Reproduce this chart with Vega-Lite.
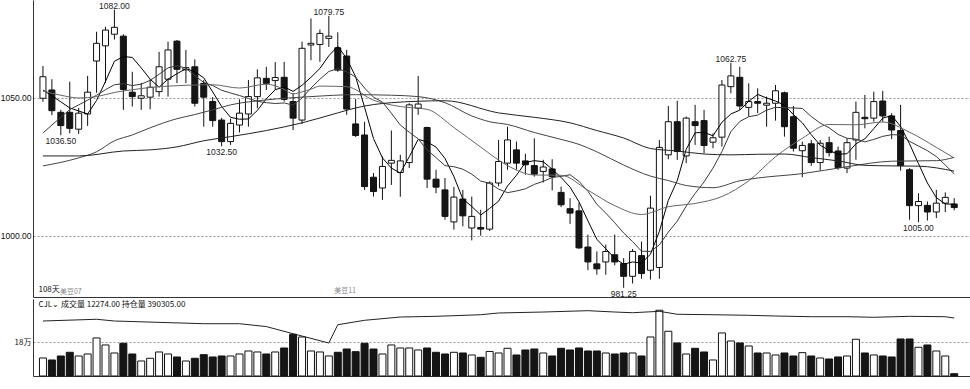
{
"$schema":"https://vega.github.io/schema/vega-lite/v6.json",
"padding":0,
"background":"white",
"spacing":0,
"config":{"view":{"stroke":null},"font":"Liberation Sans","text":{"font":"Liberation Sans"}},
"datasets":{
"k":[
{"i":0,"o":1049.9,"h":1061.6,"l":1048.6,"c":1057.7,"v":96100,"m5":1052.9,"m10":1037.3},
{"i":1,"o":1052.9,"h":1056.8,"l":1043.8,"c":1045.4,"v":85500,"m5":1050.8,"m10":1040.2},
{"i":2,"o":1044.8,"h":1045.7,"l":1036.5,"c":1040.0,"v":106800,"m5":1048.6,"m10":1043.0},
{"i":3,"o":1044.8,"h":1055.9,"l":1037.2,"c":1039.0,"v":126600,"m5":1046.4,"m10":1045.8},
{"i":4,"o":1038.7,"h":1046.4,"l":1037.0,"c":1044.5,"v":106800,"m5":1045.3,"m10":1047.5},
{"i":5,"o":1044.2,"h":1058.0,"l":1039.9,"c":1052.1,"v":117500,"m5":1044.2,"m10":1049.2},
{"i":6,"o":1063.4,"h":1074.0,"l":1051.9,"c":1069.8,"v":203000,"m5":1049.1,"m10":1051.0},
{"i":7,"o":1068.9,"h":1075.8,"l":1055.4,"c":1074.6,"v":165600,"m5":1056.0,"m10":1053.0},
{"i":8,"o":1073.1,"h":1082.0,"l":1071.2,"c":1075.6,"v":122800,"m5":1063.3,"m10":1054.8},
{"i":9,"o":1072.4,"h":1073.1,"l":1045.7,"c":1053.1,"v":174600,"m5":1065.0,"m10":1055.2},
{"i":10,"o":1052.1,"h":1059.5,"l":1046.9,"c":1050.5,"v":117500,"m5":1064.7,"m10":1054.5},
{"i":11,"o":1049.9,"h":1055.5,"l":1045.7,"c":1050.8,"v":80100,"m5":1060.9,"m10":1055.0},
{"i":12,"o":1050.3,"h":1056.8,"l":1045.9,"c":1053.9,"v":94500,"m5":1056.8,"m10":1056.4},
{"i":13,"o":1052.3,"h":1066.7,"l":1050.5,"c":1061.3,"v":128200,"m5":1053.9,"m10":1058.6},
{"i":14,"o":1056.8,"h":1070.4,"l":1050.5,"c":1067.4,"v":117500,"m5":1056.8,"m10":1060.9},
{"i":15,"o":1070.6,"h":1071.0,"l":1055.4,"c":1060.4,"v":101500,"m5":1058.8,"m10":1061.7},
{"i":16,"o":1060.2,"h":1067.4,"l":1055.4,"c":1061.0,"v":80100,"m5":1060.6,"m10":1060.8},
{"i":17,"o":1061.3,"h":1064.0,"l":1046.9,"c":1048.1,"v":94500,"m5":1059.5,"m10":1058.1},
{"i":18,"o":1055.3,"h":1056.5,"l":1039.6,"c":1050.3,"v":113800,"m5":1057.3,"m10":1055.6},
{"i":19,"o":1048.7,"h":1050.3,"l":1039.6,"c":1041.8,"v":101500,"m5":1052.2,"m10":1054.5},
{"i":20,"o":1042.0,"h":1042.8,"l":1032.5,"c":1034.2,"v":106800,"m5":1046.9,"m10":1052.8},
{"i":21,"o":1034.2,"h":1042.5,"l":1033.0,"c":1040.8,"v":106800,"m5":1043.0,"m10":1051.8},
{"i":22,"o":1040.2,"h":1049.5,"l":1037.5,"c":1044.5,"v":117500,"m5":1042.3,"m10":1050.9},
{"i":23,"o":1044.2,"h":1056.5,"l":1039.6,"c":1050.5,"v":133500,"m5":1042.4,"m10":1049.8},
{"i":24,"o":1050.5,"h":1060.4,"l":1046.3,"c":1057.3,"v":128200,"m5":1045.5,"m10":1048.8},
{"i":25,"o":1057.1,"h":1061.3,"l":1052.9,"c":1055.3,"v":117500,"m5":1049.7,"m10":1048.3},
{"i":26,"o":1056.3,"h":1063.0,"l":1053.0,"c":1057.4,"v":128200,"m5":1053.0,"m10":1048.0},
{"i":27,"o":1057.5,"h":1063.1,"l":1048.7,"c":1049.5,"v":149500,"m5":1054.0,"m10":1048.2},
{"i":28,"o":1048.7,"h":1051.8,"l":1038.4,"c":1042.7,"v":222700,"m5":1052.4,"m10":1047.4},
{"i":29,"o":1042.0,"h":1070.4,"l":1040.6,"c":1068.0,"v":208300,"m5":1054.6,"m10":1050.0},
{"i":30,"o":1069.2,"h":1078.8,"l":1063.7,"c":1069.8,"v":133500,"m5":1057.5,"m10":1053.6},
{"i":31,"o":1069.4,"h":1074.8,"l":1063.1,"c":1073.4,"v":128200,"m5":1060.7,"m10":1056.8},
{"i":32,"o":1071.6,"h":1079.75,"l":1068.5,"c":1072.4,"v":106800,"m5":1065.3,"m10":1059.6},
{"i":33,"o":1068.2,"h":1073.8,"l":1059.5,"c":1060.1,"v":126600,"m5":1068.7,"m10":1060.6},
{"i":34,"o":1065.2,"h":1067.4,"l":1043.9,"c":1046.0,"v":144200,"m5":1064.3,"m10":1059.5},
{"i":35,"o":1040.6,"h":1049.6,"l":1035.9,"c":1036.4,"v":129800,"m5":1057.7,"m10":1057.6},
{"i":36,"o":1036.6,"h":1041.4,"l":1016.7,"c":1017.9,"v":174600,"m5":1046.6,"m10":1053.6},
{"i":37,"o":1021.3,"h":1022.8,"l":1014.3,"c":1016.1,"v":144000,"m5":1035.3,"m10":1050.3},
{"i":38,"o":1017.4,"h":1028.8,"l":1013.1,"c":1025.2,"v":117500,"m5":1028.3,"m10":1048.5},
{"i":39,"o":1026.4,"h":1038.2,"l":1018.5,"c":1027.4,"v":165600,"m5":1024.6,"m10":1044.5},
{"i":40,"o":1023.0,"h":1029.4,"l":1014.2,"c":1027.2,"v":149500,"m5":1022.8,"m10":1040.2},
{"i":41,"o":1026.6,"h":1048.1,"l":1024.6,"c":1047.5,"v":149500,"m5":1028.7,"m10":1037.6},
{"i":42,"o":1046.3,"h":1058.0,"l":1043.9,"c":1047.8,"v":138900,"m5":1035.0,"m10":1035.2},
{"i":43,"o":1039.3,"h":1039.6,"l":1017.4,"c":1020.6,"v":149500,"m5":1034.1,"m10":1031.2},
{"i":44,"o":1020.6,"h":1024.0,"l":1015.5,"c":1017.7,"v":126600,"m5":1032.2,"m10":1028.4},
{"i":45,"o":1016.7,"h":1021.0,"l":1005.9,"c":1007.1,"v":117500,"m5":1028.1,"m10":1025.5},
{"i":46,"o":1005.1,"h":1017.8,"l":1002.3,"c":1014.1,"v":126600,"m5":1021.5,"m10":1025.1},
{"i":47,"o":1013.4,"h":1016.7,"l":1003.5,"c":1007.3,"v":122800,"m5":1013.4,"m10":1024.2},
{"i":48,"o":1002.9,"h":1014.3,"l":998.4,"c":1007.1,"v":112200,"m5":1010.7,"m10":1022.4},
{"i":49,"o":1003.1,"h":1009.5,"l":1000.1,"c":1002.5,"v":99900,"m5":1007.6,"m10":1019.9},
{"i":50,"o":1002.5,"h":1019.8,"l":1001.8,"c":1019.2,"v":131000,"m5":1010.0,"m10":1019.1},
{"i":51,"o":1019.2,"h":1034.8,"l":1018.0,"c":1027.0,"v":122800,"m5":1012.6,"m10":1017.0},
{"i":52,"o":1026.4,"h":1039.6,"l":1024.0,"c":1034.8,"v":147900,"m5":1018.1,"m10":1015.7},
{"i":53,"o":1031.2,"h":1034.2,"l":1024.0,"c":1026.4,"v":112200,"m5":1022.0,"m10":1016.3},
{"i":54,"o":1027.2,"h":1029.8,"l":1022.2,"c":1025.8,"v":138900,"m5":1026.6,"m10":1017.1},
{"i":55,"o":1025.5,"h":1035.4,"l":1021.5,"c":1022.4,"v":144200,"m5":1027.3,"m10":1018.7},
{"i":56,"o":1023.4,"h":1027.6,"l":1019.4,"c":1025.0,"v":122800,"m5":1026.9,"m10":1019.8},
{"i":57,"o":1024.3,"h":1027.8,"l":1016.5,"c":1021.5,"v":106800,"m5":1024.2,"m10":1021.2},
{"i":58,"o":1015.8,"h":1017.9,"l":1010.5,"c":1011.3,"v":147900,"m5":1021.2,"m10":1021.6},
{"i":59,"o":1009.9,"h":1013.7,"l":1004.4,"c":1008.3,"v":138900,"m5":1017.7,"m10":1022.2},
{"i":60,"o":1009.1,"h":1012.1,"l":995.3,"c":995.7,"v":149500,"m5":1012.4,"m10":1019.8},
{"i":61,"o":996.0,"h":1000.5,"l":987.6,"c":990.6,"v":133500,"m5":1005.5,"m10":1016.2},
{"i":62,"o":989.9,"h":994.4,"l":986.0,"c":988.1,"v":133500,"m5":998.8,"m10":1011.5},
{"i":63,"o":990.6,"h":996.9,"l":986.0,"c":994.4,"v":122800,"m5":995.4,"m10":1008.3},
{"i":64,"o":993.2,"h":1000.5,"l":989.4,"c":990.6,"v":117500,"m5":991.9,"m10":1004.8},
{"i":65,"o":990.0,"h":992.0,"l":981.25,"c":985.4,"v":122800,"m5":989.8,"m10":1001.1},
{"i":66,"o":985.4,"h":995.3,"l":982.8,"c":994.4,"v":122800,"m5":990.6,"m10":998.0},
{"i":67,"o":992.9,"h":998.0,"l":984.5,"c":986.4,"v":106800,"m5":990.2,"m10":994.5},
{"i":68,"o":987.6,"h":1014.6,"l":984.2,"c":1010.1,"v":208300,"m5":993.4,"m10":994.4},
{"i":69,"o":988.6,"h":1034.8,"l":984.5,"c":1032.1,"v":350900,"m5":1001.7,"m10":996.8},
{"i":70,"o":1029.4,"h":1047.1,"l":1027.8,"c":1041.4,"v":238700,"m5":1012.9,"m10":1001.4},
{"i":71,"o":1041.4,"h":1049.0,"l":1027.6,"c":1030.6,"v":176300,"m5":1020.1,"m10":1005.4},
{"i":72,"o":1029.0,"h":1043.3,"l":1026.4,"c":1042.7,"v":117500,"m5":1031.4,"m10":1010.8},
{"i":73,"o":1041.4,"h":1047.5,"l":1033.0,"c":1040.0,"v":147900,"m5":1037.4,"m10":1015.4},
{"i":74,"o":1041.8,"h":1045.7,"l":1030.0,"c":1032.8,"v":128200,"m5":1037.5,"m10":1019.6},
{"i":75,"o":1034.0,"h":1037.2,"l":1031.8,"c":1035.6,"v":85500,"m5":1036.3,"m10":1024.6},
{"i":76,"o":1035.8,"h":1056.5,"l":1032.4,"c":1054.7,"v":229700,"m5":1041.2,"m10":1030.6},
{"i":77,"o":1054.1,"h":1062.75,"l":1051.7,"c":1058.0,"v":186900,"m5":1044.2,"m10":1037.8},
{"i":78,"o":1057.5,"h":1061.3,"l":1045.7,"c":1047.1,"v":176300,"m5":1045.6,"m10":1041.5},
{"i":79,"o":1046.6,"h":1055.3,"l":1043.2,"c":1048.7,"v":160200,"m5":1048.8,"m10":1043.2},
{"i":80,"o":1048.7,"h":1053.5,"l":1044.5,"c":1048.1,"v":122800,"m5":1051.3,"m10":1043.8},
{"i":81,"o":1047.4,"h":1050.5,"l":1039.6,"c":1048.1,"v":122800,"m5":1050.0,"m10":1045.6},
{"i":82,"o":1048.1,"h":1054.7,"l":1041.8,"c":1052.6,"v":112200,"m5":1048.9,"m10":1046.6},
{"i":83,"o":1051.9,"h":1052.3,"l":1036.0,"c":1039.6,"v":122800,"m5":1047.4,"m10":1046.5},
{"i":84,"o":1043.2,"h":1047.1,"l":1030.6,"c":1031.8,"v":106800,"m5":1044.0,"m10":1046.4},
{"i":85,"o":1030.9,"h":1034.2,"l":1021.3,"c":1032.8,"v":124600,"m5":1041.0,"m10":1046.2},
{"i":86,"o":1033.4,"h":1034.8,"l":1025.4,"c":1026.6,"v":106800,"m5":1036.7,"m10":1043.3},
{"i":87,"o":1026.6,"h":1034.8,"l":1023.7,"c":1033.6,"v":96100,"m5":1032.9,"m10":1040.9},
{"i":88,"o":1033.8,"h":1036.0,"l":1028.8,"c":1030.2,"v":90800,"m5":1031.0,"m10":1039.2},
{"i":89,"o":1030.8,"h":1032.4,"l":1024.0,"c":1024.8,"v":101500,"m5":1029.6,"m10":1036.8},
{"i":90,"o":1024.6,"h":1035.4,"l":1022.8,"c":1033.8,"v":106800,"m5":1029.8,"m10":1035.4},
{"i":91,"o":1034.8,"h":1048.7,"l":1027.6,"c":1044.8,"v":196000,"m5":1033.4,"m10":1035.1},
{"i":92,"o":1043.0,"h":1051.1,"l":1039.0,"c":1042.5,"v":122800,"m5":1035.2,"m10":1034.1},
{"i":93,"o":1042.7,"h":1052.3,"l":1041.4,"c":1048.7,"v":112200,"m5":1038.9,"m10":1035.0},
{"i":94,"o":1048.9,"h":1052.6,"l":1041.4,"c":1043.5,"v":106800,"m5":1042.7,"m10":1036.1},
{"i":95,"o":1043.5,"h":1044.5,"l":1035.1,"c":1038.4,"v":101500,"m5":1043.6,"m10":1036.7},
{"i":96,"o":1038.2,"h":1047.5,"l":1023.7,"c":1025.5,"v":197600,"m5":1039.7,"m10":1036.6},
{"i":97,"o":1024.0,"h":1024.6,"l":1005.9,"c":1011.0,"v":197600,"m5":1033.4,"m10":1034.3},
{"i":98,"o":1011.0,"h":1015.5,"l":1005.0,"c":1012.5,"v":153300,"m5":1026.2,"m10":1032.6},
{"i":99,"o":1011.1,"h":1012.5,"l":1005.6,"c":1008.7,"v":165600,"m5":1019.2,"m10":1030.9},
{"i":100,"o":1008.7,"h":1016.7,"l":1006.5,"c":1011.9,"v":133500,"m5":1013.9,"m10":1028.8},
{"i":101,"o":1011.9,"h":1015.8,"l":1008.7,"c":1014.0,"v":106800,"m5":1011.6,"m10":1025.7},
{"i":102,"o":1011.6,"h":1013.7,"l":1009.3,"c":1010.3,"v":12274,"m5":1011.5,"m10":1022.5}
],
"ma":[
{"i":0,"n":"MA20","p":1052.5},{"i":2,"n":"MA20","p":1051.0},{"i":4,"n":"MA20","p":1050.0},{"i":6,"n":"MA20","p":1050.5},{"i":8,"n":"MA20","p":1052.0},{"i":10,"n":"MA20","p":1053.0},{"i":12,"n":"MA20","p":1053.8},{"i":14,"n":"MA20","p":1054.3},{"i":16,"n":"MA20","p":1054.6},{"i":19,"n":"MA20","p":1054.8},{"i":22,"n":"MA20","p":1053.6},{"i":25,"n":"MA20","p":1055.0},{"i":26,"n":"MA20","p":1054.4},{"i":27,"n":"MA20","p":1053.1},{"i":28,"n":"MA20","p":1051.5},{"i":29,"n":"MA20","p":1052.2},{"i":30,"n":"MA20","p":1053.2},{"i":31,"n":"MA20","p":1054.3},{"i":34,"n":"MA20","p":1054.1},{"i":37,"n":"MA20","p":1049.2},{"i":40,"n":"MA20","p":1046.9},{"i":43,"n":"MA20","p":1045.9},{"i":46,"n":"MA20","p":1039.3},{"i":49,"n":"MA20","p":1032.2},{"i":52,"n":"MA20","p":1025.5},{"i":55,"n":"MA20","p":1022.1},{"i":58,"n":"MA20","p":1022.0},{"i":61,"n":"MA20","p":1016.6},{"i":64,"n":"MA20","p":1011.0},{"i":67,"n":"MA20","p":1007.8},{"i":70,"n":"MA20","p":1010.6},{"i":73,"n":"MA20","p":1011.8},{"i":76,"n":"MA20","p":1014.3},{"i":79,"n":"MA20","p":1020.0},{"i":82,"n":"MA20","p":1028.7},{"i":85,"n":"MA20","p":1035.4},{"i":88,"n":"MA20","p":1040.4},{"i":91,"n":"MA20","p":1040.3},{"i":94,"n":"MA20","p":1041.3},{"i":97,"n":"MA20","p":1037.6},{"i":100,"n":"MA20","p":1032.1},{"i":102,"n":"MA20","p":1028.25},
{"i":0,"n":"MA40","p":1025.4},{"i":4,"n":"MA40","p":1028.3},{"i":6,"n":"MA40","p":1030.5},{"i":8,"n":"MA40","p":1034.5},{"i":10,"n":"MA40","p":1036.6},{"i":12,"n":"MA40","p":1039.2},{"i":15,"n":"MA40","p":1042.5},{"i":17,"n":"MA40","p":1044.0},{"i":19,"n":"MA40","p":1045.7},{"i":21,"n":"MA40","p":1047.5},{"i":25,"n":"MA40","p":1049.3},{"i":30,"n":"MA40","p":1050.5},{"i":35,"n":"MA40","p":1051.2},{"i":39,"n":"MA40","p":1051.0},{"i":42,"n":"MA40","p":1050.5},{"i":45,"n":"MA40","p":1048.3},{"i":48,"n":"MA40","p":1043.5},{"i":50,"n":"MA40","p":1041.4},{"i":52,"n":"MA40","p":1040.4},{"i":55,"n":"MA40","p":1037.5},{"i":58,"n":"MA40","p":1035.0},{"i":60,"n":"MA40","p":1033.2},{"i":62,"n":"MA40","p":1030.5},{"i":65,"n":"MA40","p":1025.7},{"i":68,"n":"MA40","p":1021.7},{"i":70,"n":"MA40","p":1020.1},{"i":72,"n":"MA40","p":1018.3},{"i":75,"n":"MA40","p":1017.5},{"i":78,"n":"MA40","p":1020.0},{"i":80,"n":"MA40","p":1021.0},{"i":85,"n":"MA40","p":1022.6},{"i":90,"n":"MA40","p":1025.1},{"i":95,"n":"MA40","p":1027.1},{"i":100,"n":"MA40","p":1027.3},{"i":102,"n":"MA40","p":1028.5},
{"i":0,"n":"MA60","p":1029.0},{"i":4,"n":"MA60","p":1029.0},{"i":9,"n":"MA60","p":1030.8},{"i":12,"n":"MA60","p":1031.2},{"i":15,"n":"MA60","p":1032.3},{"i":18,"n":"MA60","p":1034.5},{"i":21,"n":"MA60","p":1036.0},{"i":25,"n":"MA60","p":1038.2},{"i":29,"n":"MA60","p":1041.0},{"i":33,"n":"MA60","p":1044.6},{"i":35,"n":"MA60","p":1046.4},{"i":39,"n":"MA60","p":1048.3},{"i":45,"n":"MA60","p":1049.0},{"i":51,"n":"MA60","p":1044.6},{"i":55,"n":"MA60","p":1043.0},{"i":59,"n":"MA60","p":1041.0},{"i":62,"n":"MA60","p":1038.2},{"i":65,"n":"MA60","p":1035.5},{"i":68,"n":"MA60","p":1031.7},{"i":71,"n":"MA60","p":1030.8},{"i":74,"n":"MA60","p":1029.7},{"i":77,"n":"MA60","p":1029.4},{"i":80,"n":"MA60","p":1029.6},{"i":83,"n":"MA60","p":1029.7},{"i":86,"n":"MA60","p":1028.4},{"i":89,"n":"MA60","p":1027.2},{"i":92,"n":"MA60","p":1025.6},{"i":95,"n":"MA60","p":1025.4},{"i":98,"n":"MA60","p":1025.3},{"i":102,"n":"MA60","p":1023.5}
],
"oi":[
{"i":0,"oi":385700},{"i":6,"oi":388400},{"i":8,"oi":385700},{"i":18,"oi":381500},{"i":22,"oi":381500},{"i":25,"oi":377000},{"i":28,"oi":365900},{"i":32,"oi":351400},{"i":33,"oi":379900},{"i":36,"oi":386800},{"i":40,"oi":391900},{"i":44,"oi":393000},{"i":49,"oi":395500},{"i":51,"oi":398200},{"i":56,"oi":399700},{"i":61,"oi":401800},{"i":64,"oi":399700},{"i":66,"oi":398600},{"i":69,"oi":400800},{"i":71,"oi":396200},{"i":75,"oi":395500},{"i":79,"oi":394600},{"i":82,"oi":393500},{"i":86,"oi":392400},{"i":90,"oi":392400},{"i":93,"oi":391500},{"i":97,"oi":393000},{"i":101,"oi":392400},{"i":102,"oi":390305}
],
"hi":[{"i":8,"p":1082.0,"t":"1082.00"},{"i":32,"p":1079.75,"t":"1079.75"},{"i":77,"p":1062.75,"t":"1062.75"}],
"lo":[{"i":2,"p":1036.5,"t":"1036.50"},{"i":20,"p":1032.5,"t":"1032.50"},{"i":65,"p":981.25,"t":"981.25"},{"i":98,"p":1005.0,"t":"1005.00"}],
"tagA":[{"i":-0.5,"p":980.6,"t":"108天"}],
"tagB":[{"i":1.9,"p":979.8,"t":"美豆07"},{"i":32.6,"p":979.9,"t":"美豆11"}],
"hdr":[{"i":-0.5,"v":379000,"t":"CJL⌄ 成交量 12274.00  持仓量 390305.00"}]
},
"vconcat":[
{
"width":938,"height":297,
"layer":[
{"data":{"name":"k"},"mark":{"type":"rule","color":"#111","strokeWidth":1},
 "encoding":{
  "x":{"field":"i","type":"quantitative","scale":{"domain":[-0.554,103.32],"nice":false,"zero":false},"axis":{"title":null,"labels":false,"ticks":false,"grid":false,"domain":true,"domainColor":"#333","minExtent":0,"maxExtent":0}},
  "y":{"field":"l","type":"quantitative","scale":{"domain":[977.9,1085.5],"nice":false,"zero":false},"axis":{"title":null,"values":[1000,1050],"format":".2f","grid":true,"gridDash":[2,2],"gridColor":"#999","ticks":false,"labelPadding":2,"labelFontSize":8.5,"labelColor":"#111","labelFont":"Liberation Sans","domainColor":"#333","minExtent":32,"maxExtent":32}},
  "y2":{"field":"h"}}},
{"data":{"name":"k"},"mark":{"type":"bar","size":6,"stroke":"#111","strokeWidth":1},
 "encoding":{
  "x":{"field":"i","type":"quantitative"},
  "y":{"field":"o","type":"quantitative"},
  "y2":{"field":"c"},
  "fill":{"condition":{"test":"datum.c >= datum.o","value":"#ffffff"},"value":"#151515"}}},
{"data":{"name":"k"},"mark":{"type":"line","color":"#000","strokeWidth":1},
 "encoding":{"x":{"field":"i","type":"quantitative"},"y":{"field":"m5","type":"quantitative"}}},
{"data":{"name":"k"},"mark":{"type":"line","color":"#3a3a3a","strokeWidth":1},
 "encoding":{"x":{"field":"i","type":"quantitative"},"y":{"field":"m10","type":"quantitative"}}},
{"data":{"name":"ma"},"mark":{"type":"line","strokeWidth":1,"interpolate":"monotone"},
 "encoding":{"x":{"field":"i","type":"quantitative"},"y":{"field":"p","type":"quantitative"},
  "color":{"field":"n","type":"nominal","scale":{"domain":["MA20","MA40","MA60"],"range":["#666666","#444444","#222222"]},"legend":null}}},
{"data":{"name":"hi"},"mark":{"type":"text","fontSize":8.5,"color":"#222","align":"center","baseline":"alphabetic","dy":-1},
 "encoding":{"x":{"field":"i","type":"quantitative"},"y":{"field":"p","type":"quantitative"},"text":{"field":"t"}}},
{"data":{"name":"lo"},"mark":{"type":"text","fontSize":8.5,"color":"#222","align":"center","baseline":"top","dy":2},
 "encoding":{"x":{"field":"i","type":"quantitative"},"y":{"field":"p","type":"quantitative"},"text":{"field":"t"}}},
{"data":{"name":"tagB"},"mark":{"type":"text","fontSize":7,"color":"#888","align":"left","baseline":"middle","font":"Noto Sans CJK SC"},
 "encoding":{"x":{"field":"i","type":"quantitative"},"y":{"field":"p","type":"quantitative"},"text":{"field":"t"}}},
{"data":{"name":"tagA"},"mark":{"type":"text","fontSize":8,"color":"#111","align":"left","baseline":"middle","font":"Noto Sans CJK SC"},
 "encoding":{"x":{"field":"i","type":"quantitative"},"y":{"field":"p","type":"quantitative"},"text":{"field":"t"}}}
]
},
{
"width":938,"height":77,
"layer":[
{"data":{"name":"k"},"mark":{"type":"bar","size":7,"stroke":"#111","strokeWidth":1},
 "encoding":{
  "x":{"field":"i","type":"quantitative","scale":{"domain":[-0.554,103.32],"nice":false,"zero":false},"axis":{"title":null,"labels":false,"ticks":false,"grid":false,"domain":true,"domainColor":"#333","minExtent":0,"maxExtent":0}},
  "y":{"field":"v","type":"quantitative","scale":{"domain":[0,411000],"nice":false},"axis":{"title":null,"values":[180000],"labelExpr":"'18万'","grid":true,"gridDash":[2,2],"gridColor":"#999","ticks":false,"labelPadding":2,"labelFontSize":8,"labelColor":"#111","labelFont":"Noto Sans CJK SC","domainColor":"#333","minExtent":32,"maxExtent":32}},
  "fill":{"condition":{"test":"datum.c >= datum.o","value":"#ffffff"},"value":"#151515"}}},
{"data":{"name":"oi"},"mark":{"type":"line","color":"#222","strokeWidth":1},
 "encoding":{"x":{"field":"i","type":"quantitative"},"y":{"field":"oi","type":"quantitative","scale":{"domain":[300000,420000],"nice":false,"zero":false},"axis":null}}},
{"data":{"name":"hdr"},"mark":{"type":"text","fontSize":8,"color":"#111","align":"left","baseline":"middle","font":"Noto Sans CJK SC"},
 "encoding":{"x":{"field":"i","type":"quantitative"},"y":{"field":"v","type":"quantitative","scale":{"domain":[0,411000],"nice":false},"axis":null},"text":{"field":"t"}}}
],
"resolve":{"scale":{"y":"independent"}}
}
]
}
